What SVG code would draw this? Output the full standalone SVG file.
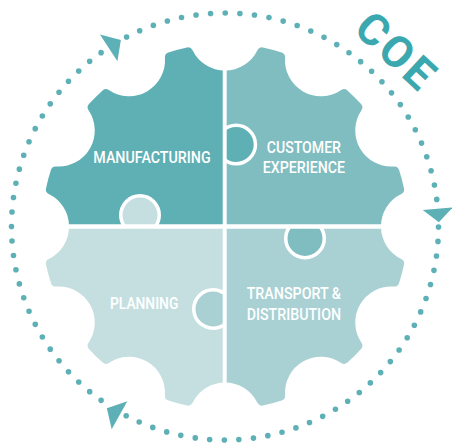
<svg xmlns="http://www.w3.org/2000/svg" xmlns:xlink="http://www.w3.org/1999/xlink" width="452" height="445" viewBox="0 0 452 445">
  <style>
    .lbl { font-family: Roboto, "Liberation Sans", sans-serif; font-size: 16.5px; font-weight: 500; fill: #ffffff; }
    .coe { font-family: Roboto, "Liberation Sans", sans-serif; font-size: 44px; font-weight: 700; fill: #3BA8AF; }
    .dots { fill: none; stroke: #5DB0B6; stroke-width: 5.6; stroke-linecap: round; stroke-dasharray: 0 1; }
    .arrow { fill: #5DB0B6; stroke: none; }
    .knob { stroke: #ffffff; stroke-width: 3.5; }
    .divider { stroke: #ffffff; fill: none; }
  </style>
  <defs>
    <path id="gearShape" d="M399.13,263.42 A178,178 0 0 1 394.26,281.59 A41,41 0 0 0 357.34,345.54 A178,178 0 0 1 344.04,358.84 A41,41 0 0 0 280.09,395.76 A178,178 0 0 1 261.92,400.63 A41,41 0 0 0 188.08,400.63 A178,178 0 0 1 169.91,395.76 A41,41 0 0 0 105.96,358.84 A178,178 0 0 1 92.66,345.54 A41,41 0 0 0 55.74,281.59 A178,178 0 0 1 50.87,263.42 A41,41 0 0 0 50.87,189.58 A178,178 0 0 1 55.74,171.41 A41,41 0 0 0 92.66,107.46 A178,178 0 0 1 105.96,94.16 A41,41 0 0 0 169.91,57.24 A178,178 0 0 1 188.08,52.37 A41,41 0 0 0 261.92,52.37 A178,178 0 0 1 280.09,57.24 A41,41 0 0 0 344.04,94.16 A178,178 0 0 1 357.34,107.46 A41,41 0 0 0 394.26,171.41 A178,178 0 0 1 399.13,189.58 A41,41 0 0 0 399.13,263.42 Z"/>
    <mask id="gearMask" maskUnits="userSpaceOnUse" x="0" y="0" width="452" height="445">
      <use xlink:href="#gearShape" fill="#fff" stroke="#fff" stroke-width="10" stroke-linejoin="round"/>
    </mask>
    <mask id="gearMaskCX" maskUnits="userSpaceOnUse" x="0" y="0" width="452" height="445">
      <use xlink:href="#gearShape" fill="#fff" stroke="#fff" stroke-width="10" stroke-linejoin="round"/>
      <circle cx="236.2" cy="144.5" r="21" fill="#000"/>
    </mask>
    <clipPath id="clipRight"><rect x="224.7" y="0" width="227.3" height="445"/></clipPath>
    <clipPath id="clipLeft"><rect x="0" y="0" width="224.7" height="445"/></clipPath>
    <clipPath id="clipTop"><rect x="0" y="0" width="452" height="226.5"/></clipPath>
    <clipPath id="clipBottom"><rect x="0" y="226.5" width="452" height="218.5"/></clipPath>
  </defs>

  <g id="node-manufacturing">
    <rect x="0" y="0" width="224.7" height="226.5" fill="#5FB0B5" mask="url(#gearMask)"/>
    <circle class="knob" cx="236.2" cy="144.5" r="19.25" fill="#5FB0B5" clip-path="url(#clipRight)"/>
    <text class="lbl" x="93.3" y="163.3" textLength="117.4" lengthAdjust="spacingAndGlyphs">MANUFACTURING</text>
  </g>

  <g id="node-planning">
    <rect x="0" y="226.5" width="224.7" height="218.5" fill="#C5DFE1" mask="url(#gearMask)"/>
    <circle class="knob" cx="140" cy="215" r="19.25" fill="#C5DFE1" clip-path="url(#clipTop)"/>
    <text class="lbl" x="110" y="309.3" textLength="68.3" lengthAdjust="spacingAndGlyphs">PLANNING</text>
  </g>

  <g id="node-transport-distribution">
    <rect x="224.7" y="226.5" width="227.3" height="218.5" fill="#A9D1D4" mask="url(#gearMask)"/>
    <circle class="knob" cx="213" cy="309" r="19.25" fill="#A9D1D4" clip-path="url(#clipLeft)"/>
    <text class="lbl" x="246.7" y="299.3" textLength="94.3" lengthAdjust="spacingAndGlyphs">TRANSPORT &amp;</text>
    <text class="lbl" x="246.7" y="320.3" textLength="94.3" lengthAdjust="spacingAndGlyphs">DISTRIBUTION</text>
  </g>

  <g id="node-customer-experience">
    <rect x="224.7" y="0" width="227.3" height="226.5" fill="#80BDC1" mask="url(#gearMaskCX)"/>
    <circle class="knob" cx="305" cy="238.5" r="19.25" fill="#80BDC1" clip-path="url(#clipBottom)"/>
    <text class="lbl" x="266.7" y="153.3" textLength="74.3" lengthAdjust="spacingAndGlyphs">CUSTOMER</text>
    <text class="lbl" x="262.7" y="173.3" textLength="82.3" lengthAdjust="spacingAndGlyphs">EXPERIENCE</text>
  </g>

  <g id="dividers">
    <line class="divider" x1="224.7" y1="35" x2="224.7" y2="418" stroke-width="4"/>
    <line class="divider" x1="35" y1="226.5" x2="415" y2="226.5" stroke-width="4.5"/>
  </g>

  <g id="connectors">
    <path class="dots" pathLength="28.001" d="M126.58,37.04 A213.5,213.5 0 0 1 436.77,199.41"/>
    <path class="dots" pathLength="30.001" d="M438.5,226.98 A213.5,213.5 0 0 1 126.17,415.75"/>
    <path class="dots" pathLength="28.001" d="M101.1,400.37 A213.5,213.5 0 0 1 101.1,52.63"/>
    <polygon class="arrow" points="99.97,34.39 120.85,39.89 117.43,61.21"/>
    <polygon class="arrow" points="422.75,210.05 438.8,222.3 452.65,207.56"/>
    <polygon class="arrow" points="127.31,401.23 106.84,408.13 111.69,429.17"/>
  </g>

  <g id="title-coe">
    <text class="coe" transform="translate(385.1,61.8) rotate(43)" x="0" y="0" text-anchor="middle" textLength="90" lengthAdjust="spacing">COE</text>
  </g>
</svg>
